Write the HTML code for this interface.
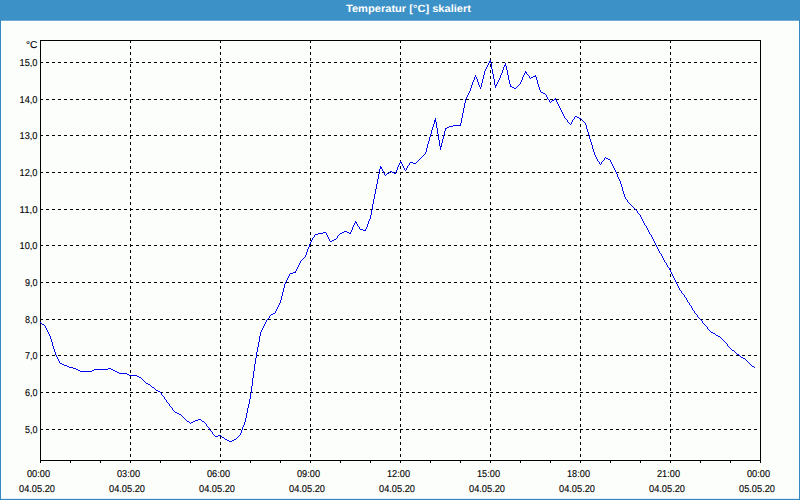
<!DOCTYPE html>
<html lang="de"><head><meta charset="utf-8"><title>Temperatur [°C] skaliert</title>
<style>
html,body{margin:0;padding:0;background:#fcfefc;overflow:hidden}
svg{display:block}
text{font-family:"Liberation Sans",sans-serif;fill:#000;text-rendering:geometricPrecision}
.t{font-size:10px;stroke:#000;stroke-width:0.12px}
.ttl{font-size:10.5px;font-weight:bold;fill:#fff}
</style></head><body>
<svg width="800" height="500" viewBox="0 0 800 500">
<rect x="0" y="0" width="800" height="500" fill="#3388c2"/>
<rect x="1" y="20.7" width="798" height="478.15" fill="#ffffff"/>
<rect x="2" y="21.7" width="796" height="476.15" fill="#fcfefc"/>
<rect x="0" y="0" width="800" height="19.8" fill="#3c91c7"/>
<text class="ttl" x="408.5" y="12" text-anchor="middle" textLength="125" lengthAdjust="spacingAndGlyphs">Temperatur [°C] skaliert</text>
<g shape-rendering="crispEdges" stroke="#000" stroke-width="1" fill="none">

<line x1="40" y1="62.5" x2="760" y2="62.5" stroke-dasharray="3 3"/>
<line x1="40" y1="99.5" x2="760" y2="99.5" stroke-dasharray="3 3"/>
<line x1="40" y1="135.5" x2="760" y2="135.5" stroke-dasharray="3 3"/>
<line x1="40" y1="172.5" x2="760" y2="172.5" stroke-dasharray="3 3"/>
<line x1="40" y1="209.5" x2="760" y2="209.5" stroke-dasharray="3 3"/>
<line x1="40" y1="245.5" x2="760" y2="245.5" stroke-dasharray="3 3"/>
<line x1="40" y1="282.5" x2="760" y2="282.5" stroke-dasharray="3 3"/>
<line x1="40" y1="319.5" x2="760" y2="319.5" stroke-dasharray="3 3"/>
<line x1="40" y1="355.5" x2="760" y2="355.5" stroke-dasharray="3 3"/>
<line x1="40" y1="392.5" x2="760" y2="392.5" stroke-dasharray="3 3"/>
<line x1="40" y1="429.5" x2="760" y2="429.5" stroke-dasharray="3 3"/>
<line x1="130.5" y1="40" x2="130.5" y2="460" stroke-dasharray="3 3"/>
<line x1="220.5" y1="40" x2="220.5" y2="460" stroke-dasharray="3 3"/>
<line x1="310.5" y1="40" x2="310.5" y2="460" stroke-dasharray="3 3"/>
<line x1="400.5" y1="40" x2="400.5" y2="460" stroke-dasharray="3 3"/>
<line x1="490.5" y1="40" x2="490.5" y2="460" stroke-dasharray="3 3"/>
<line x1="580.5" y1="40" x2="580.5" y2="460" stroke-dasharray="3 3"/>
<line x1="670.5" y1="40" x2="670.5" y2="460" stroke-dasharray="3 3"/>
<rect x="40.5" y="40.5" width="720" height="420"/>
<line x1="40.5" y1="461" x2="40.5" y2="463"/>
<line x1="70.5" y1="461" x2="70.5" y2="463"/>
<line x1="100.5" y1="461" x2="100.5" y2="463"/>
<line x1="130.5" y1="461" x2="130.5" y2="463"/>
<line x1="160.5" y1="461" x2="160.5" y2="463"/>
<line x1="190.5" y1="461" x2="190.5" y2="463"/>
<line x1="220.5" y1="461" x2="220.5" y2="463"/>
<line x1="250.5" y1="461" x2="250.5" y2="463"/>
<line x1="280.5" y1="461" x2="280.5" y2="463"/>
<line x1="310.5" y1="461" x2="310.5" y2="463"/>
<line x1="340.5" y1="461" x2="340.5" y2="463"/>
<line x1="370.5" y1="461" x2="370.5" y2="463"/>
<line x1="400.5" y1="461" x2="400.5" y2="463"/>
<line x1="430.5" y1="461" x2="430.5" y2="463"/>
<line x1="460.5" y1="461" x2="460.5" y2="463"/>
<line x1="490.5" y1="461" x2="490.5" y2="463"/>
<line x1="520.5" y1="461" x2="520.5" y2="463"/>
<line x1="550.5" y1="461" x2="550.5" y2="463"/>
<line x1="580.5" y1="461" x2="580.5" y2="463"/>
<line x1="610.5" y1="461" x2="610.5" y2="463"/>
<line x1="640.5" y1="461" x2="640.5" y2="463"/>
<line x1="670.5" y1="461" x2="670.5" y2="463"/>
<line x1="700.5" y1="461" x2="700.5" y2="463"/>
<line x1="730.5" y1="461" x2="730.5" y2="463"/>
<line x1="760.5" y1="461" x2="760.5" y2="463"/>
</g>
<path d="M40 322h1v1h-1zM41 323h1v1h-1zM42 324h1v1h-1zM43 324h1v1h-1zM44 325h1v1h-1zM45 326h1v2h-1zM46 328h1v2h-1zM47 330h1v2h-1zM48 332h1v2h-1zM49 334h1v2h-1zM50 336h1v3h-1zM51 339h1v3h-1zM52 342h1v4h-1zM53 346h1v3h-1zM54 349h1v3h-1zM55 352h1v3h-1zM56 355h1v2h-1zM57 357h1v2h-1zM58 359h1v2h-1zM59 361h1v2h-1zM60 363h1v1h-1zM61 363h1v1h-1zM62 364h1v1h-1zM63 364h1v1h-1zM64 365h1v1h-1zM65 365h1v1h-1zM66 365h1v1h-1zM67 366h1v1h-1zM68 366h1v1h-1zM69 367h1v1h-1zM70 367h1v1h-1zM71 367h1v1h-1zM72 367h1v1h-1zM73 368h1v1h-1zM74 368h1v1h-1zM75 368h1v1h-1zM76 369h1v1h-1zM77 369h1v1h-1zM78 370h1v1h-1zM79 370h1v1h-1zM80 371h1v1h-1zM81 371h1v1h-1zM82 371h1v1h-1zM83 371h1v1h-1zM84 371h1v1h-1zM85 371h1v1h-1zM86 371h1v1h-1zM87 371h1v1h-1zM88 371h1v1h-1zM89 371h1v1h-1zM90 371h1v1h-1zM91 371h1v1h-1zM92 370h1v1h-1zM93 370h1v1h-1zM94 369h1v1h-1zM95 369h1v1h-1zM96 369h1v1h-1zM97 369h1v1h-1zM98 369h1v1h-1zM99 369h1v1h-1zM100 369h1v1h-1zM101 369h1v1h-1zM102 369h1v1h-1zM103 369h1v1h-1zM104 369h1v1h-1zM105 369h1v1h-1zM106 369h1v1h-1zM107 369h1v1h-1zM108 368h1v1h-1zM109 368h1v1h-1zM110 368h1v1h-1zM111 369h1v1h-1zM112 369h1v1h-1zM113 370h1v1h-1zM114 370h1v1h-1zM115 371h1v1h-1zM116 371h1v1h-1zM117 372h1v1h-1zM118 372h1v1h-1zM119 373h1v1h-1zM120 373h1v1h-1zM121 373h1v1h-1zM122 373h1v1h-1zM123 373h1v1h-1zM124 373h1v1h-1zM125 373h1v1h-1zM126 373h1v1h-1zM127 374h1v1h-1zM128 374h1v1h-1zM129 375h1v1h-1zM130 375h1v1h-1zM131 375h1v1h-1zM132 375h1v1h-1zM133 375h1v1h-1zM134 375h1v1h-1zM135 375h1v1h-1zM136 375h1v1h-1zM137 376h1v1h-1zM138 376h1v1h-1zM139 377h1v1h-1zM140 377h1v1h-1zM141 378h1v1h-1zM142 379h1v1h-1zM143 380h1v1h-1zM144 381h1v1h-1zM145 382h1v1h-1zM146 383h1v1h-1zM147 383h1v1h-1zM148 384h1v1h-1zM149 384h1v1h-1zM150 385h1v1h-1zM151 386h1v1h-1zM152 387h1v1h-1zM153 387h1v1h-1zM154 388h1v1h-1zM155 389h1v1h-1zM156 390h1v1h-1zM157 390h1v1h-1zM158 391h1v1h-1zM159 391h1v1h-1zM160 392h1v1h-1zM161 393h1v2h-1zM162 395h1v1h-1zM163 396h1v1h-1zM164 397h1v2h-1zM165 399h1v1h-1zM166 400h1v2h-1zM167 402h1v1h-1zM168 403h1v1h-1zM169 404h1v2h-1zM170 406h1v1h-1zM171 407h1v1h-1zM172 408h1v2h-1zM173 410h1v1h-1zM174 411h1v1h-1zM175 412h1v1h-1zM176 412h1v1h-1zM177 413h1v1h-1zM178 413h1v1h-1zM179 414h1v1h-1zM180 414h1v1h-1zM181 415h1v1h-1zM182 416h1v1h-1zM183 417h1v1h-1zM184 418h1v1h-1zM185 419h1v1h-1zM186 420h1v1h-1zM187 421h1v1h-1zM188 421h1v1h-1zM189 422h1v1h-1zM190 423h1v1h-1zM191 422h1v1h-1zM192 422h1v1h-1zM193 421h1v1h-1zM194 421h1v1h-1zM195 420h1v1h-1zM196 420h1v1h-1zM197 420h1v1h-1zM198 419h1v1h-1zM199 419h1v1h-1zM200 419h1v1h-1zM201 420h1v1h-1zM202 421h1v1h-1zM203 421h1v1h-1zM204 422h1v1h-1zM205 423h1v1h-1zM206 424h1v2h-1zM207 426h1v1h-1zM208 427h1v1h-1zM209 428h1v2h-1zM210 430h1v1h-1zM211 431h1v1h-1zM212 432h1v2h-1zM213 434h1v1h-1zM214 435h1v1h-1zM215 436h1v1h-1zM216 436h1v1h-1zM217 436h1v1h-1zM218 435h1v1h-1zM219 435h1v1h-1zM220 435h1v1h-1zM221 436h1v1h-1zM222 437h1v1h-1zM223 437h1v1h-1zM224 438h1v1h-1zM225 439h1v1h-1zM226 439h1v1h-1zM227 440h1v1h-1zM228 440h1v1h-1zM229 441h1v1h-1zM230 441h1v1h-1zM231 441h1v1h-1zM232 440h1v1h-1zM233 440h1v1h-1zM234 439h1v1h-1zM235 439h1v1h-1zM236 438h1v1h-1zM237 437h1v1h-1zM238 436h1v1h-1zM239 435h1v1h-1zM240 433h1v2h-1zM241 430h1v3h-1zM242 427h1v3h-1zM243 425h1v2h-1zM244 422h1v3h-1zM245 418h1v4h-1zM246 413h1v5h-1zM247 408h1v5h-1zM248 404h1v4h-1zM249 399h1v5h-1zM250 393h1v6h-1zM251 386h1v7h-1zM252 378h1v8h-1zM253 371h1v7h-1zM254 364h1v7h-1zM255 358h1v6h-1zM256 352h1v6h-1zM257 347h1v5h-1zM258 342h1v5h-1zM259 336h1v6h-1zM260 332h1v4h-1zM261 330h1v2h-1zM262 328h1v2h-1zM263 326h1v2h-1zM264 324h1v2h-1zM265 322h1v2h-1zM266 320h1v2h-1zM267 319h1v1h-1zM268 318h1v1h-1zM269 316h1v2h-1zM270 315h1v1h-1zM271 314h1v1h-1zM272 314h1v1h-1zM273 313h1v1h-1zM274 313h1v1h-1zM275 311h1v2h-1zM276 309h1v2h-1zM277 307h1v2h-1zM278 305h1v2h-1zM279 303h1v2h-1zM280 300h1v3h-1zM281 296h1v4h-1zM282 292h1v4h-1zM283 288h1v4h-1zM284 284h1v4h-1zM285 282h1v2h-1zM286 280h1v2h-1zM287 278h1v2h-1zM288 276h1v2h-1zM289 274h1v2h-1zM290 273h1v1h-1zM291 273h1v1h-1zM292 273h1v1h-1zM293 272h1v1h-1zM294 272h1v1h-1zM295 271h1v2h-1zM296 269h1v2h-1zM297 267h1v2h-1zM298 265h1v2h-1zM299 263h1v2h-1zM300 261h1v2h-1zM301 260h1v1h-1zM302 259h1v1h-1zM303 258h1v1h-1zM304 257h1v1h-1zM305 255h1v2h-1zM306 252h1v3h-1zM307 249h1v3h-1zM308 247h1v2h-1zM309 244h1v3h-1zM310 242h1v2h-1zM311 240h1v2h-1zM312 238h1v2h-1zM313 237h1v1h-1zM314 235h1v2h-1zM315 234h1v1h-1zM316 234h1v1h-1zM317 234h1v1h-1zM318 233h1v1h-1zM319 233h1v1h-1zM320 233h1v1h-1zM321 233h1v1h-1zM322 233h1v1h-1zM323 232h1v1h-1zM324 232h1v1h-1zM325 232h1v1h-1zM326 233h1v2h-1zM327 235h1v2h-1zM328 237h1v2h-1zM329 239h1v2h-1zM330 241h1v1h-1zM331 241h1v1h-1zM332 240h1v1h-1zM333 240h1v1h-1zM334 239h1v1h-1zM335 239h1v1h-1zM336 238h1v1h-1zM337 236h1v2h-1zM338 235h1v1h-1zM339 234h1v1h-1zM340 233h1v1h-1zM341 233h1v1h-1zM342 232h1v1h-1zM343 232h1v1h-1zM344 231h1v1h-1zM345 231h1v1h-1zM346 231h1v1h-1zM347 232h1v1h-1zM348 232h1v1h-1zM349 233h1v1h-1zM350 232h1v2h-1zM351 230h1v2h-1zM352 227h1v3h-1zM353 225h1v2h-1zM354 223h1v2h-1zM355 221h1v2h-1zM356 222h1v2h-1zM357 224h1v2h-1zM358 226h1v1h-1zM359 227h1v2h-1zM360 229h1v1h-1zM361 229h1v1h-1zM362 229h1v1h-1zM363 230h1v1h-1zM364 230h1v1h-1zM365 229h1v2h-1zM366 227h1v2h-1zM367 224h1v3h-1zM368 221h1v3h-1zM369 219h1v2h-1zM370 215h1v4h-1zM371 210h1v5h-1zM372 204h1v6h-1zM373 199h1v5h-1zM374 194h1v5h-1zM375 189h1v5h-1zM376 184h1v5h-1zM377 179h1v5h-1zM378 174h1v5h-1zM379 169h1v5h-1zM380 166h1v3h-1zM381 167h1v2h-1zM382 169h1v2h-1zM383 171h1v2h-1zM384 173h1v2h-1zM385 175h1v1h-1zM386 174h1v1h-1zM387 173h1v1h-1zM388 173h1v1h-1zM389 172h1v1h-1zM390 171h1v1h-1zM391 171h1v1h-1zM392 172h1v1h-1zM393 172h1v1h-1zM394 173h1v1h-1zM395 172h1v2h-1zM396 170h1v2h-1zM397 167h1v3h-1zM398 165h1v2h-1zM399 163h1v2h-1zM400 161h1v2h-1zM401 162h1v2h-1zM402 164h1v2h-1zM403 166h1v2h-1zM404 168h1v2h-1zM405 170h1v1h-1zM406 168h1v2h-1zM407 166h1v2h-1zM408 165h1v1h-1zM409 163h1v2h-1zM410 162h1v1h-1zM411 162h1v1h-1zM412 162h1v1h-1zM413 163h1v1h-1zM414 163h1v1h-1zM415 163h1v1h-1zM416 162h1v1h-1zM417 161h1v1h-1zM418 160h1v1h-1zM419 159h1v1h-1zM420 158h1v1h-1zM421 157h1v1h-1zM422 156h1v1h-1zM423 155h1v1h-1zM424 154h1v1h-1zM425 152h1v2h-1zM426 148h1v4h-1zM427 144h1v4h-1zM428 141h1v3h-1zM429 137h1v4h-1zM430 134h1v3h-1zM431 130h1v4h-1zM432 127h1v3h-1zM433 124h1v3h-1zM434 120h1v4h-1zM435 118h1v4h-1zM436 122h1v6h-1zM437 128h1v6h-1zM438 134h1v6h-1zM439 140h1v6h-1zM440 146h1v4h-1zM441 143h1v4h-1zM442 139h1v4h-1zM443 135h1v4h-1zM444 131h1v4h-1zM445 128h1v3h-1zM446 128h1v1h-1zM447 127h1v1h-1zM448 127h1v1h-1zM449 126h1v1h-1zM450 126h1v1h-1zM451 126h1v1h-1zM452 126h1v1h-1zM453 125h1v1h-1zM454 125h1v1h-1zM455 125h1v1h-1zM456 125h1v1h-1zM457 125h1v1h-1zM458 125h1v1h-1zM459 125h1v1h-1zM460 123h1v3h-1zM461 118h1v5h-1zM462 113h1v5h-1zM463 108h1v5h-1zM464 103h1v5h-1zM465 99h1v4h-1zM466 97h1v2h-1zM467 95h1v2h-1zM468 93h1v2h-1zM469 91h1v2h-1zM470 88h1v3h-1zM471 85h1v3h-1zM472 82h1v3h-1zM473 80h1v2h-1zM474 77h1v3h-1zM475 75h1v2h-1zM476 77h1v2h-1zM477 79h1v3h-1zM478 82h1v3h-1zM479 85h1v2h-1zM480 87h1v2h-1zM481 83h1v4h-1zM482 79h1v4h-1zM483 75h1v4h-1zM484 71h1v4h-1zM485 69h1v2h-1zM486 67h1v2h-1zM487 65h1v2h-1zM488 63h1v2h-1zM489 61h1v2h-1zM490 60h1v3h-1zM491 63h1v6h-1zM492 69h1v5h-1zM493 74h1v5h-1zM494 79h1v6h-1zM495 85h1v3h-1zM496 84h1v2h-1zM497 82h1v2h-1zM498 80h1v2h-1zM499 78h1v2h-1zM500 75h1v3h-1zM501 73h1v2h-1zM502 70h1v3h-1zM503 67h1v3h-1zM504 65h1v2h-1zM505 63h1v3h-1zM506 66h1v4h-1zM507 70h1v5h-1zM508 75h1v5h-1zM509 80h1v4h-1zM510 84h1v3h-1zM511 86h1v1h-1zM512 87h1v1h-1zM513 87h1v1h-1zM514 88h1v1h-1zM515 88h1v1h-1zM516 87h1v1h-1zM517 86h1v1h-1zM518 85h1v1h-1zM519 84h1v1h-1zM520 82h1v2h-1zM521 80h1v2h-1zM522 77h1v3h-1zM523 75h1v2h-1zM524 73h1v2h-1zM525 71h1v2h-1zM526 72h1v2h-1zM527 74h1v1h-1zM528 75h1v1h-1zM529 76h1v2h-1zM530 78h1v1h-1zM531 77h1v1h-1zM532 77h1v1h-1zM533 76h1v1h-1zM534 76h1v1h-1zM535 75h1v2h-1zM536 77h1v3h-1zM537 80h1v4h-1zM538 84h1v3h-1zM539 87h1v3h-1zM540 90h1v2h-1zM541 92h1v1h-1zM542 92h1v1h-1zM543 93h1v1h-1zM544 93h1v1h-1zM545 94h1v1h-1zM546 95h1v2h-1zM547 97h1v2h-1zM548 99h1v1h-1zM549 100h1v2h-1zM550 102h1v1h-1zM551 101h1v1h-1zM552 100h1v1h-1zM553 100h1v1h-1zM554 99h1v1h-1zM555 98h1v2h-1zM556 100h1v2h-1zM557 102h1v2h-1zM558 104h1v2h-1zM559 106h1v2h-1zM560 108h1v2h-1zM561 110h1v2h-1zM562 112h1v2h-1zM563 114h1v2h-1zM564 116h1v2h-1zM565 118h1v1h-1zM566 119h1v1h-1zM567 120h1v2h-1zM568 122h1v1h-1zM569 123h1v1h-1zM570 124h1v1h-1zM571 122h1v2h-1zM572 120h1v2h-1zM573 119h1v1h-1zM574 117h1v2h-1zM575 116h1v1h-1zM576 116h1v1h-1zM577 117h1v1h-1zM578 117h1v1h-1zM579 118h1v1h-1zM580 118h1v1h-1zM581 119h1v1h-1zM582 120h1v1h-1zM583 121h1v1h-1zM584 122h1v1h-1zM585 123h1v2h-1zM586 125h1v4h-1zM587 129h1v3h-1zM588 132h1v3h-1zM589 135h1v4h-1zM590 139h1v3h-1zM591 142h1v3h-1zM592 145h1v4h-1zM593 149h1v3h-1zM594 152h1v3h-1zM595 155h1v2h-1zM596 157h1v2h-1zM597 159h1v2h-1zM598 161h1v1h-1zM599 162h1v2h-1zM600 164h1v1h-1zM601 162h1v2h-1zM602 161h1v1h-1zM603 160h1v1h-1zM604 158h1v2h-1zM605 157h1v1h-1zM606 158h1v1h-1zM607 158h1v1h-1zM608 159h1v1h-1zM609 159h1v1h-1zM610 160h1v2h-1zM611 162h1v2h-1zM612 164h1v2h-1zM613 166h1v2h-1zM614 168h1v2h-1zM615 170h1v2h-1zM616 172h1v2h-1zM617 174h1v3h-1zM618 177h1v2h-1zM619 179h1v2h-1zM620 181h1v3h-1zM621 184h1v3h-1zM622 187h1v4h-1zM623 191h1v3h-1zM624 194h1v3h-1zM625 197h1v2h-1zM626 199h1v1h-1zM627 200h1v2h-1zM628 202h1v1h-1zM629 203h1v1h-1zM630 204h1v1h-1zM631 205h1v1h-1zM632 206h1v1h-1zM633 207h1v1h-1zM634 208h1v1h-1zM635 209h1v1h-1zM636 210h1v1h-1zM637 211h1v2h-1zM638 213h1v1h-1zM639 214h1v1h-1zM640 215h1v2h-1zM641 217h1v2h-1zM642 219h1v2h-1zM643 221h1v2h-1zM644 223h1v2h-1zM645 225h1v1h-1zM646 226h1v2h-1zM647 228h1v2h-1zM648 230h1v2h-1zM649 232h1v2h-1zM650 234h1v1h-1zM651 235h1v2h-1zM652 237h1v2h-1zM653 239h1v2h-1zM654 241h1v2h-1zM655 243h1v2h-1zM656 245h1v2h-1zM657 247h1v2h-1zM658 249h1v2h-1zM659 251h1v2h-1zM660 253h1v1h-1zM661 254h1v2h-1zM662 256h1v2h-1zM663 258h1v2h-1zM664 260h1v2h-1zM665 262h1v1h-1zM666 263h1v2h-1zM667 265h1v2h-1zM668 267h1v1h-1zM669 268h1v2h-1zM670 270h1v2h-1zM671 272h1v2h-1zM672 274h1v2h-1zM673 276h1v2h-1zM674 278h1v2h-1zM675 280h1v2h-1zM676 282h1v2h-1zM677 284h1v2h-1zM678 286h1v2h-1zM679 288h1v2h-1zM680 290h1v1h-1zM681 291h1v2h-1zM682 293h1v1h-1zM683 294h1v1h-1zM684 295h1v2h-1zM685 297h1v1h-1zM686 298h1v2h-1zM687 300h1v2h-1zM688 302h1v1h-1zM689 303h1v2h-1zM690 305h1v1h-1zM691 306h1v2h-1zM692 308h1v2h-1zM693 310h1v1h-1zM694 311h1v2h-1zM695 313h1v1h-1zM696 314h1v1h-1zM697 315h1v2h-1zM698 317h1v1h-1zM699 318h1v1h-1zM700 319h1v1h-1zM701 320h1v1h-1zM702 321h1v2h-1zM703 323h1v1h-1zM704 324h1v1h-1zM705 325h1v1h-1zM706 326h1v1h-1zM707 327h1v2h-1zM708 329h1v1h-1zM709 330h1v1h-1zM710 331h1v1h-1zM711 332h1v1h-1zM712 332h1v1h-1zM713 333h1v1h-1zM714 333h1v1h-1zM715 334h1v1h-1zM716 335h1v1h-1zM717 335h1v1h-1zM718 336h1v1h-1zM719 336h1v1h-1zM720 337h1v1h-1zM721 338h1v1h-1zM722 339h1v1h-1zM723 340h1v1h-1zM724 341h1v1h-1zM725 342h1v1h-1zM726 343h1v1h-1zM727 344h1v2h-1zM728 346h1v1h-1zM729 347h1v1h-1zM730 348h1v1h-1zM731 349h1v1h-1zM732 350h1v1h-1zM733 350h1v1h-1zM734 351h1v1h-1zM735 352h1v1h-1zM736 353h1v1h-1zM737 354h1v1h-1zM738 354h1v1h-1zM739 355h1v1h-1zM740 356h1v1h-1zM741 357h1v1h-1zM742 357h1v1h-1zM743 358h1v1h-1zM744 358h1v1h-1zM745 359h1v1h-1zM746 360h1v1h-1zM747 361h1v1h-1zM748 362h1v1h-1zM749 363h1v1h-1zM750 364h1v1h-1zM751 365h1v1h-1zM752 366h1v1h-1zM753 366h1v1h-1zM754 367h1v1h-1z" fill="#0000f0" shape-rendering="crispEdges"/>
<text class="t" x="37.5" y="66" text-anchor="end" textLength="18" lengthAdjust="spacingAndGlyphs">15,0</text>
<text class="t" x="37.5" y="103" text-anchor="end" textLength="18" lengthAdjust="spacingAndGlyphs">14,0</text>
<text class="t" x="37.5" y="139" text-anchor="end" textLength="18" lengthAdjust="spacingAndGlyphs">13,0</text>
<text class="t" x="37.5" y="176" text-anchor="end" textLength="18" lengthAdjust="spacingAndGlyphs">12,0</text>
<text class="t" x="37.5" y="213" text-anchor="end" textLength="18" lengthAdjust="spacingAndGlyphs">11,0</text>
<text class="t" x="37.5" y="249" text-anchor="end" textLength="18" lengthAdjust="spacingAndGlyphs">10,0</text>
<text class="t" x="37.5" y="286" text-anchor="end" textLength="12.5" lengthAdjust="spacingAndGlyphs">9,0</text>
<text class="t" x="37.5" y="323" text-anchor="end" textLength="12.5" lengthAdjust="spacingAndGlyphs">8,0</text>
<text class="t" x="37.5" y="359" text-anchor="end" textLength="12.5" lengthAdjust="spacingAndGlyphs">7,0</text>
<text class="t" x="37.5" y="396" text-anchor="end" textLength="12.5" lengthAdjust="spacingAndGlyphs">6,0</text>
<text class="t" x="37.5" y="433" text-anchor="end" textLength="12.5" lengthAdjust="spacingAndGlyphs">5,0</text>
<text class="t" x="37.5" y="48" text-anchor="end" textLength="11.5" lengthAdjust="spacingAndGlyphs">°C</text>
<text class="t" x="38.5" y="477" text-anchor="middle" textLength="23" lengthAdjust="spacingAndGlyphs">00:00</text>
<text class="t" x="37" y="492" text-anchor="middle" textLength="36" lengthAdjust="spacingAndGlyphs">04.05.20</text>
<text class="t" x="128.5" y="477" text-anchor="middle" textLength="23" lengthAdjust="spacingAndGlyphs">03:00</text>
<text class="t" x="127" y="492" text-anchor="middle" textLength="36" lengthAdjust="spacingAndGlyphs">04.05.20</text>
<text class="t" x="218.5" y="477" text-anchor="middle" textLength="23" lengthAdjust="spacingAndGlyphs">06:00</text>
<text class="t" x="217" y="492" text-anchor="middle" textLength="36" lengthAdjust="spacingAndGlyphs">04.05.20</text>
<text class="t" x="308.5" y="477" text-anchor="middle" textLength="23" lengthAdjust="spacingAndGlyphs">09:00</text>
<text class="t" x="307" y="492" text-anchor="middle" textLength="36" lengthAdjust="spacingAndGlyphs">04.05.20</text>
<text class="t" x="398.5" y="477" text-anchor="middle" textLength="23" lengthAdjust="spacingAndGlyphs">12:00</text>
<text class="t" x="397" y="492" text-anchor="middle" textLength="36" lengthAdjust="spacingAndGlyphs">04.05.20</text>
<text class="t" x="488.5" y="477" text-anchor="middle" textLength="23" lengthAdjust="spacingAndGlyphs">15:00</text>
<text class="t" x="487" y="492" text-anchor="middle" textLength="36" lengthAdjust="spacingAndGlyphs">04.05.20</text>
<text class="t" x="578.5" y="477" text-anchor="middle" textLength="23" lengthAdjust="spacingAndGlyphs">18:00</text>
<text class="t" x="577" y="492" text-anchor="middle" textLength="36" lengthAdjust="spacingAndGlyphs">04.05.20</text>
<text class="t" x="668.5" y="477" text-anchor="middle" textLength="23" lengthAdjust="spacingAndGlyphs">21:00</text>
<text class="t" x="667" y="492" text-anchor="middle" textLength="36" lengthAdjust="spacingAndGlyphs">04.05.20</text>
<text class="t" x="758.5" y="477" text-anchor="middle" textLength="23" lengthAdjust="spacingAndGlyphs">00:00</text>
<text class="t" x="757" y="492" text-anchor="middle" textLength="36" lengthAdjust="spacingAndGlyphs">05.05.20</text>
</svg></body></html>
